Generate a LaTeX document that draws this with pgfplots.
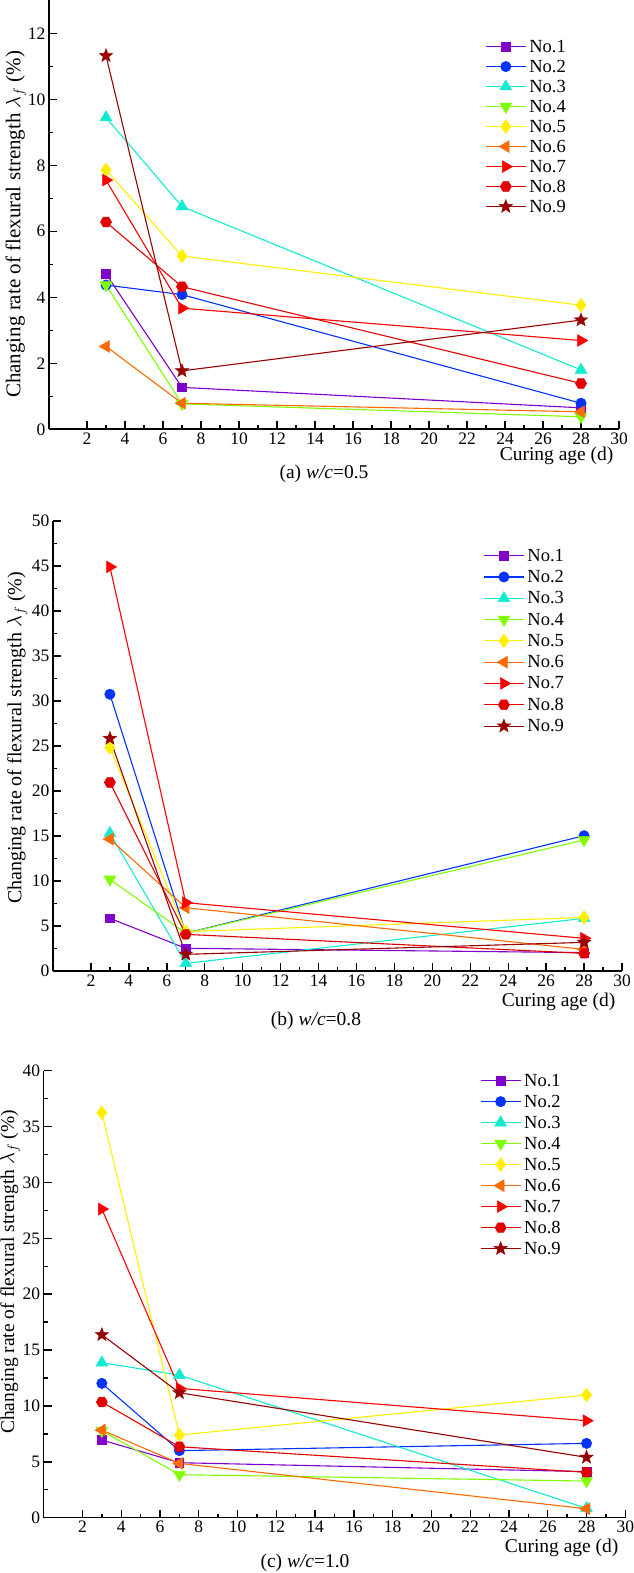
\documentclass[border=0pt]{standalone}
\usepackage{fontspec}
\setmainfont{Liberation Serif}
\usepackage{pgfplots}
\pgfplotsset{compat=1.18}

\definecolor{c1}{HTML}{8000CC}
\definecolor{c2}{HTML}{0033FF}
\definecolor{c3}{HTML}{10ECD0}
\definecolor{c4}{HTML}{80FF00}
\definecolor{c5}{HTML}{FFF000}
\definecolor{c6}{HTML}{FF6A00}
\definecolor{c7}{HTML}{FF0000}
\definecolor{c8}{HTML}{E00000}
\definecolor{c9}{HTML}{990000}

\pgfdeclareplotmark{hexagon*}{%
  \pgfpathmoveto{\pgfqpointpolar{0}{\pgfplotmarksize}}%
  \pgfpathlineto{\pgfqpointpolar{60}{\pgfplotmarksize}}%
  \pgfpathlineto{\pgfqpointpolar{120}{\pgfplotmarksize}}%
  \pgfpathlineto{\pgfqpointpolar{180}{\pgfplotmarksize}}%
  \pgfpathlineto{\pgfqpointpolar{240}{\pgfplotmarksize}}%
  \pgfpathlineto{\pgfqpointpolar{300}{\pgfplotmarksize}}%
  \pgfpathclose\pgfusepathqfillstroke}
\pgfdeclareplotmark{fstar}{%
  \pgfpathmoveto{\pgfqpointpolar{90}{\pgfplotmarksize}}%
  \pgfpathlineto{\pgfqpointpolar{126}{0.42\pgfplotmarksize}}%
  \pgfpathlineto{\pgfqpointpolar{162}{\pgfplotmarksize}}%
  \pgfpathlineto{\pgfqpointpolar{198}{0.42\pgfplotmarksize}}%
  \pgfpathlineto{\pgfqpointpolar{234}{\pgfplotmarksize}}%
  \pgfpathlineto{\pgfqpointpolar{270}{0.42\pgfplotmarksize}}%
  \pgfpathlineto{\pgfqpointpolar{306}{\pgfplotmarksize}}%
  \pgfpathlineto{\pgfqpointpolar{342}{0.42\pgfplotmarksize}}%
  \pgfpathlineto{\pgfqpointpolar{18}{\pgfplotmarksize}}%
  \pgfpathlineto{\pgfqpointpolar{54}{0.42\pgfplotmarksize}}%
  \pgfpathclose\pgfusepathqfillstroke}

\pgfplotsset{
  panel/.style={
    scale only axis, xmin=0, xmax=30, ymin=0, anchor=origin,
    axis lines*=left, axis line style={line width=1.6pt},
    tick align=inside, major tick length=8pt, minor tick length=4pt,
    tick style={line width=1.4pt, black},
    xtick={2,4,...,30}, minor x tick num=1,
    tick label style={font=\fontsize{17.5}{20}\selectfont},
    /pgf/number format/assume math mode=true,
    clip=false,
    legend cell align=left,
    legend image code/.code={\draw[mark repeat=2,mark phase=2,##1] plot coordinates {(0pt,0pt) (20pt,0pt) (40pt,0pt)};},
    legend style={draw=none, fill=none, font=\fontsize{18.5}{20}\selectfont, anchor=north west, inner sep=0pt, nodes={inner sep=0pt, text height=13pt, text depth=2pt}, column sep=3pt},
    every axis plot/.append style={line width=1.1pt},
  },
  s1/.style={color=c1, mark=square*, mark size=4.3pt, mark options={solid, fill=c1, line width=0.5pt}},
  s2/.style={color=c2, mark=*, mark size=5.2pt, mark options={solid, fill=c2, line width=0.5pt}},
  s3/.style={color=c3, mark=triangle*, mark size=6.8pt, mark options={solid, fill=c3, line width=0.5pt}},
  s4/.style={color=c4, mark=triangle*, mark size=6.8pt, mark options={solid, fill=c4, line width=0.5pt, rotate=180}},
  s5/.style={color=c5, mark=diamond*, mark size=6.8pt, mark options={solid, fill=c5, line width=0.5pt}},
  s6/.style={color=c6, mark=triangle*, mark size=6.8pt, mark options={solid, fill=c6, line width=0.5pt, rotate=90}},
  s7/.style={color=c7, mark=triangle*, mark size=6.8pt, mark options={solid, fill=c7, line width=0.5pt, rotate=-90}},
  s8/.style={color=c8, mark=hexagon*, mark size=5.6pt, mark options={solid, fill=c8, line width=0.5pt}},
  s9/.style={color=c9, mark=fstar, mark size=7pt, mark options={solid, fill=c9, line width=0.5pt}},
}

\begin{document}
\begin{tikzpicture}
\useasboundingbox (0pt,0pt) rectangle (633pt,1573pt);

% ---------------- panel (a) ----------------
\begin{axis}[panel, at={(49pt,1143.7pt)}, width=570pt, height=429pt,
  ymax=13, ytick={0,2,...,12}, minor y tick num=1,
  ylabel={Changing rate of flexural strength $\lambda_f$\ (\%)},
  ylabel style={at={(axis description cs:-0.058,0.478)}, anchor=center, font=\fontsize{21}{24}\selectfont},
  legend style={at={(axis description cs:0.765,0.91)}, row sep=5pt}]
\addplot[s1] coordinates {(3,4.71) (7,1.27) (28,0.65)};
\addplot[s2] coordinates {(3,4.37) (7,4.08) (28,0.79)};
\addplot[s3] coordinates {(3,9.45) (7,6.75) (28,1.80)};
\addplot[s4] coordinates {(3,4.37) (7,0.77) (28,0.38)};
\addplot[s5] coordinates {(3,7.86) (7,5.25) (28,3.76)};
\addplot[s6] coordinates {(3,2.51) (7,0.79) (28,0.53)};
\addplot[s7] coordinates {(3,7.55) (7,3.67) (28,2.69)};
\addplot[s8] coordinates {(3,6.28) (7,4.32) (28,1.39)};
\addplot[s9] coordinates {(3,11.32) (7,1.77) (28,3.31)};
\legend{No.1,No.2,No.3,No.4,No.5,No.6,No.7,No.8,No.9}
\end{axis}

% ---------------- panel (b) ----------------
\begin{axis}[panel, at={(53pt,602pt)}, width=569pt, height=450pt,
  ymax=50, ytick={0,5,...,50}, minor y tick num=1,
  ylabel={Changing rate of flexural strength $\lambda_f$\ (\%)},
  ylabel style={at={(axis description cs:-0.063,0.518)}, anchor=center, font=\fontsize{20}{23}\selectfont},
  legend style={at={(axis description cs:0.756,0.94)}, row sep=6.3pt}]
\addplot[s1] coordinates {(3,5.85) (7,2.52) (28,2.04)};
\addplot[s2] coordinates {(3,30.75) (7,4.2) (28,15.03)};
\addplot[s3] coordinates {(3,15.3) (7,0.85) (28,5.85)};
\addplot[s4] coordinates {(3,10.18) (7,4.2) (28,14.55)};
\addplot[s5] coordinates {(3,24.83) (7,4.37) (28,5.95)};
\addplot[s6] coordinates {(3,14.66) (7,7.03) (28,2.4)};
\addplot[s7] coordinates {(3,44.9) (7,7.59) (28,3.63)};
\addplot[s8] coordinates {(3,20.95) (7,4.07) (28,1.96)};
\addplot[s9] coordinates {(3,25.83) (7,1.85) (28,3.18)};
\legend{No.1,No.2,No.3,No.4,No.5,No.6,No.7,No.8,No.9}
\end{axis}

% ---------------- panel (c) ----------------
\begin{axis}[panel, at={(43.7pt,55.3pt)}, width=581.6pt, height=447pt,
  ymax=40, ytick={0,5,...,40}, minor y tick num=1,
  ylabel={Changing rate of flexural strength $\lambda_f$\ (\%)},
  ylabel style={at={(axis description cs:-0.058,0.55)}, anchor=center, font=\fontsize{19.5}{22}\selectfont},
  legend style={at={(axis description cs:0.75,0.995)}, row sep=6pt}]
\addplot[s1] coordinates {(3,6.95) (7,4.92) (28,4.12)};
\addplot[s2] coordinates {(3,12.02) (7,6.0) (28,6.65)};
\addplot[s3] coordinates {(3,13.87) (7,12.76) (28,0.84)};
\addplot[s4] coordinates {(3,7.78) (7,3.85) (28,3.28)};
\addplot[s5] coordinates {(3,36.24) (7,7.40) (28,10.98)};
\addplot[s6] coordinates {(3,7.84) (7,4.86) (28,0.80)};
\addplot[s7] coordinates {(3,27.62) (7,11.57) (28,8.68)};
\addplot[s8] coordinates {(3,10.35) (7,6.35) (28,4.06)};
\addplot[s9] coordinates {(3,16.37) (7,11.18) (28,5.40)};
\legend{No.1,No.2,No.3,No.4,No.5,No.6,No.7,No.8,No.9}
\end{axis}

% x labels and captions
\node[anchor=east, font=\fontsize{19.5}{22}\selectfont] at (617pt,1117pt) {Curing age (d)};
\node[font=\fontsize{19.5}{22}\selectfont] at (324pt,1099pt) {(a) \textit{w/c}=0.5};
\node[anchor=east, font=\fontsize{19.5}{22}\selectfont] at (619pt,571pt) {Curing age (d)};
\node[font=\fontsize{19.5}{22}\selectfont] at (316pt,552pt) {(b) \textit{w/c}=0.8};
\node[anchor=east, font=\fontsize{19.5}{22}\selectfont] at (622pt,25pt) {Curing age (d)};
\node[font=\fontsize{19.5}{22}\selectfont] at (305pt,10pt) {(c) \textit{w/c}=1.0};
\end{tikzpicture}
\end{document}
